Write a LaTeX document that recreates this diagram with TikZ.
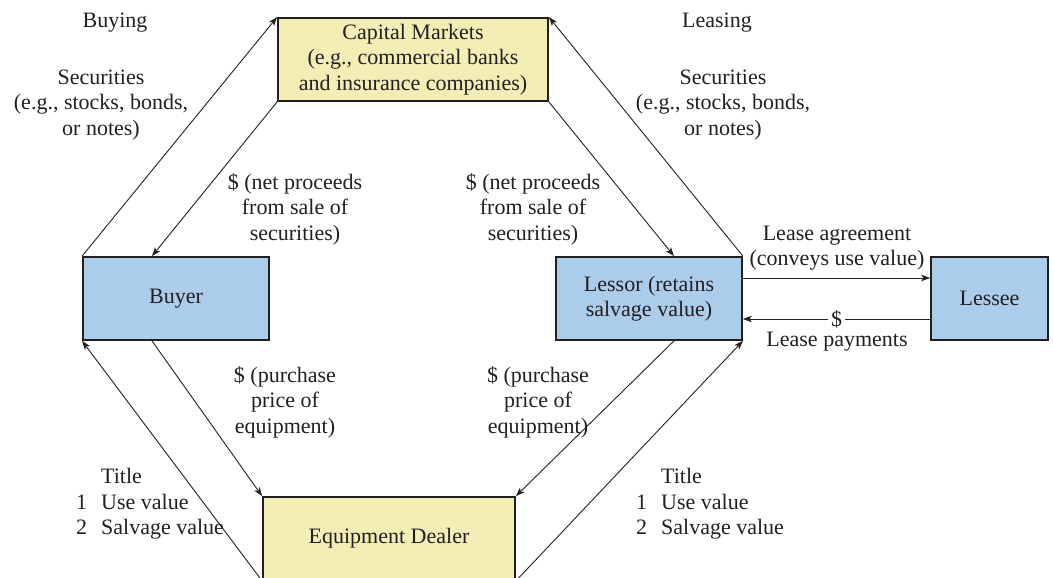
\documentclass[tikz,border=0pt]{standalone}
\usepackage{fontspec}
\setmainfont{Liberation Serif}
\usetikzlibrary{arrows.meta}
\definecolor{capyellow}{HTML}{F3EEB5}
\definecolor{partyblue}{HTML}{ABCCEA}
\definecolor{ink}{HTML}{231F20}
\tikzset{
  box/.style={draw=ink, line width=1.8pt, minimum height=83pt, align=center, inner sep=0pt},
  flow/.style={draw=ink, line width=0.9pt, -{Stealth[length=9pt,width=6.5pt,inset=2.5pt]}},
  txt/.style={align=center, inner sep=0pt}
}
\newcommand{\titlelist}{\begin{tabular}{@{}l@{\hspace{14pt}}l@{}} & Title\\ 1 & Use value\\ 2 & Salvage value\end{tabular}}
\begin{document}
\begin{tikzpicture}[x=1pt,y=-1pt,font=\fontsize{22}{25.5}\selectfont,text=ink]
\useasboundingbox (0,0) rectangle (1053,578);
% parties
\node[box, fill=capyellow, minimum width=270pt] (cm) at (413,59.5) {Capital Markets\\(e.g., commercial banks\\and insurance companies)};
\node[box, fill=partyblue, minimum width=186pt] (buyer) at (176,298.5) {Buyer};
\node[box, fill=partyblue, minimum width=186pt] (lessor) at (649,298.5) {Lessor (retains\\salvage value)};
\node[box, fill=partyblue, minimum width=117pt] (lessee) at (989.5,298.5) {Lessee};
\node[box, fill=capyellow, minimum width=252pt] (dealer) at (389,538.5) {Equipment Dealer};
% buying side
\draw[flow] (buyer.north west) -- (cm.north west);
\draw[flow] (cm.south west) -- ([xshift=-24pt]buyer.north);
\draw[flow] ([xshift=-24pt]buyer.south) -- (dealer.north west);
\draw[flow] (dealer.south west) -- (buyer.south west);
% leasing side
\draw[flow] (lessor.north east) -- (cm.north east);
\draw[flow] (cm.south east) -- ([xshift=25pt]lessor.north);
\draw[flow] ([xshift=25pt]lessor.south) -- (dealer.north east);
\draw[flow] (dealer.south east) -- (lessor.south east);
\draw[flow] ([yshift=20.5pt]lessor.east) -- ([yshift=20.5pt]lessee.west);
\draw[flow] ([yshift=-20.5pt]lessee.west) -- node[fill=white, inner sep=3pt] (dollar) {\$} ([yshift=-20.5pt]lessor.east);
% labels
\node[txt] (buying) at (115,23) {Buying};
\node[txt] (leasing) at (717,23) {Leasing};
\node[txt] (secL) at (101,105) {Securities\\(e.g., stocks, bonds,\\or notes)};
\node[txt] (secR) at (723,105) {Securities\\(e.g., stocks, bonds,\\or notes)};
\node[txt] (procL) at (295,209) {\$ (net proceeds\\from sale of\\securities)};
\node[txt] (procR) at (533,209) {\$ (net proceeds\\from sale of\\securities)};
\node[txt] (priceL) at (285,402) {\$ (purchase\\price of\\equipment)};
\node[txt] (priceR) at (538,402) {\$ (purchase\\price of\\equipment)};
\node[txt, anchor=west] (titleL) at (76,504) {\titlelist};
\node[txt, anchor=west] (titleR) at (636,504) {\titlelist};
\node[txt] (agree) at (837,248) {Lease agreement\\(conveys use value)};
\node[txt] (pay) at (837,342) {Lease payments};
\end{tikzpicture}
\end{document}
